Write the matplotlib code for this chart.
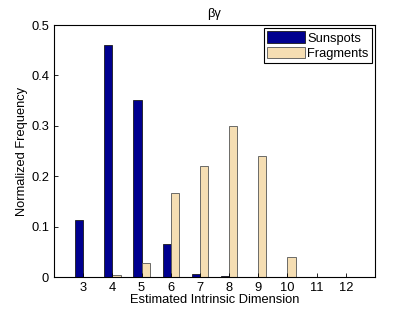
import matplotlib
matplotlib.use("Agg")
import matplotlib.pyplot as plt
import numpy as np

plt.rcParams['font.family'] = ['Liberation Sans', 'DejaVu Sans']

dims = [3, 4, 5, 6, 7, 8, 9, 10, 11, 12]
sunspots = [0.113, 0.46, 0.352, 0.065, 0.005, 0.002, 0.0, 0.0, 0.0005, 0.0005]
fragments = [0.0, 0.004, 0.027, 0.167, 0.22, 0.30, 0.24, 0.04, 0.0, 0.0]
series_names = ["Sunspots", "Fragments"]

fs = 9.3
fig = plt.figure(figsize=(4.15, 3.13), dpi=100)
ax = fig.add_axes([54/415, 1-277/313, (375-54)/415, (277-25)/313])

x = np.array(dims, dtype=float)
w = 0.28
ax.bar(x - w/2, sunspots, width=w, color='#00008F', edgecolor='#1a1a1a', linewidth=0.6, label=series_names[0])
ax.bar(x + w/2, fragments, width=w, color='#F5DEB3', edgecolor='#555555', linewidth=0.6, label=series_names[1])

ax.set_xlim(2, 13)
ax.set_ylim(0, 0.5)
ax.set_xticks(dims)
ax.set_yticks([0, 0.1, 0.2, 0.3, 0.4, 0.5])
ax.set_yticklabels(['0', '0.1', '0.2', '0.3', '0.4', '0.5'])
ax.tick_params(direction='in', length=3, labelsize=fs, width=0.6, top=False, right=False)
for s in ax.spines.values():
    s.set_linewidth(0.8)
ax.set_xlabel('Estimated Intrinsic Dimension', fontsize=fs, labelpad=0)
ax.set_ylabel('Normalized Frequency', fontsize=fs, labelpad=2)
ax.set_title('βγ', fontsize=fs, pad=6)
leg = ax.legend(loc='upper right', fontsize=fs, fancybox=False, edgecolor='black',
                handlelength=2.9, handleheight=1.0, borderpad=0.25, labelspacing=0.15,
                handletextpad=0.2, borderaxespad=0.25, framealpha=1)
leg.get_frame().set_linewidth(0.8)

fig.savefig('out.png', dpi=100)
